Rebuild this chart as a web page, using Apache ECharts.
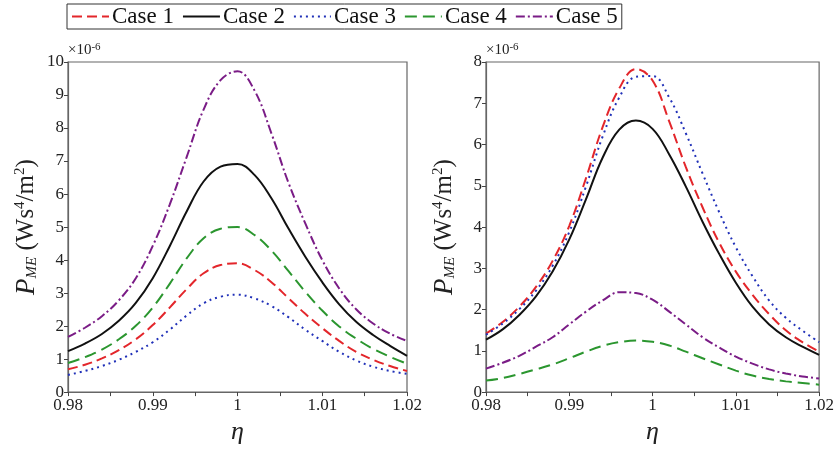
<!DOCTYPE html>
<html>
<head>
<meta charset="utf-8">
<script src="https://cdn.jsdelivr.net/npm/echarts@6/dist/echarts.min.js"></script>
<style>
  html, body { margin: 0; padding: 0; background: #fff; }
  #chart { width: 837px; height: 450px; }
</style>
</head>
<body>
<div id="chart"></div>
<script>
// eta sample points, shared by both panels
const eta = [0.980, 0.982, 0.984, 0.986, 0.988, 0.990, 0.992, 0.994, 0.996, 0.998, 1.000,
             1.002, 1.004, 1.006, 1.008, 1.010, 1.012, 1.014, 1.016, 1.018, 1.020]

// left panel, P_ME in units of 1e-6
const left1 = [0.69, 0.83, 1.02, 1.27, 1.60, 2.03, 2.56, 3.12, 3.60, 3.85, 3.90, 3.70, 3.33, 2.85, 2.37, 1.94, 1.55, 1.22, 0.98, 0.79, 0.64]
const left2 = [1.24, 1.47, 1.76, 2.16, 2.70, 3.45, 4.42, 5.47, 6.38, 6.83, 6.91, 6.58, 5.87, 4.96, 4.10, 3.33, 2.66, 2.13, 1.73, 1.40, 1.10]
const left3 = [0.52, 0.64, 0.79, 0.98, 1.22, 1.51, 1.89, 2.32, 2.69, 2.89, 2.95, 2.84, 2.61, 2.27, 1.89, 1.55, 1.22, 0.96, 0.77, 0.64, 0.55]
const left4 = [0.88, 1.06, 1.29, 1.60, 2.01, 2.56, 3.28, 4.05, 4.66, 4.95, 5.00, 4.76, 4.29, 3.67, 3.04, 2.47, 1.99, 1.62, 1.31, 1.07, 0.86]
const left5 = [1.67, 1.95, 2.30, 2.78, 3.45, 4.43, 5.68, 7.12, 8.56, 9.45, 9.72, 9.14, 7.84, 6.35, 5.11, 4.00, 3.14, 2.51, 2.08, 1.77, 1.55]

// right panel
const right1 = [1.42, 1.70, 2.07, 2.55, 3.18, 4.03, 5.18, 6.42, 7.36, 7.83, 7.55, 6.56, 5.45, 4.48, 3.62, 2.92, 2.36, 1.89, 1.50, 1.21, 0.98]
const right2 = [1.27, 1.52, 1.87, 2.32, 2.92, 3.70, 4.67, 5.68, 6.36, 6.58, 6.38, 5.76, 4.98, 4.13, 3.35, 2.65, 2.07, 1.64, 1.33, 1.10, 0.90]
const right3 = [1.39, 1.66, 2.01, 2.46, 3.06, 3.88, 4.98, 6.19, 7.14, 7.64, 7.66, 7.14, 6.27, 5.30, 4.36, 3.51, 2.81, 2.22, 1.80, 1.49, 1.21]
const right4 = [0.28, 0.34, 0.44, 0.55, 0.67, 0.82, 0.98, 1.12, 1.21, 1.25, 1.22, 1.13, 0.98, 0.82, 0.67, 0.52, 0.40, 0.32, 0.26, 0.22, 0.18]
const right5 = [0.57, 0.71, 0.88, 1.10, 1.33, 1.64, 1.95, 2.22, 2.42, 2.40, 2.24, 1.95, 1.64, 1.33, 1.08, 0.86, 0.69, 0.55, 0.45, 0.38, 0.33]

const caseNames = ['Case 1', 'Case 2', 'Case 3', 'Case 4', 'Case 5']
const xTicks = [0.98, 0.99, 1, 1.01, 1.02]

const serif = 'Liberation Serif'
const colors = ['#e3262b', '#111111', '#2030b8', '#2b962f', '#7a1c86']
const lineTypes = [[10, 5], 'solid', [2, 4], [12, 6], [9, 3, 2, 3]]

const chart = echarts.init(document.getElementById('chart'))

function zip(xs, ys) {
  return xs.map((x, i) => [x, ys[i]])
}

function makeSeries(name, idx, axisIdx, ys) {
  return {
    name: name,
    type: 'line',
    xAxisIndex: axisIdx,
    yAxisIndex: axisIdx,
    data: zip(eta, ys),
    smooth: 0.4,
    symbol: 'none',
    color: colors[idx],
    lineStyle: { width: 2, type: lineTypes[idx], color: colors[idx] },
    animation: false
  }
}

const yName = '{p|P}{sub|ME}{t| (Ws}{sup|4}{t|/m}{sup|2}{t|)}'
const yNameStyle = {
  fontFamily: serif,
  color: '#222',
  rich: {
    p: { fontFamily: serif, fontStyle: 'italic', fontSize: 27, color: '#222' },
    sub: { fontFamily: serif, fontStyle: 'italic', fontSize: 15, color: '#222', verticalAlign: 'bottom', padding: [12, 0, 0, 0] },
    t: { fontFamily: serif, fontSize: 25, color: '#222' },
    sup: { fontFamily: serif, fontSize: 15, color: '#222', verticalAlign: 'top', padding: [0, 0, 12, 0] }
  }
}

function xAxisFor(gridIndex) {
  return {
    type: 'value',
    gridIndex: gridIndex,
    min: 0.98,
    max: 1.02,
    interval: 0.01,
    name: 'η',
    nameLocation: 'middle',
    nameGap: 22,
    nameTextStyle: { fontFamily: serif, fontStyle: 'italic', fontSize: 26, color: '#222' },
    axisLine: { lineStyle: { color: '#666', width: 1.2 } },
    axisTick: { show: true, length: 4, lineStyle: { color: '#444' } },
    minorTick: { show: true, splitNumber: 2, length: 4, lineStyle: { color: '#444' } },
    splitLine: { show: false },
    axisLabel: {
      margin: 5,
      fontFamily: serif,
      fontSize: 17,
      color: '#222',
      formatter: v => String(xTicks.find(t => Math.abs(t - v) < 1e-6) ?? v)
    }
  }
}

function yAxisFor(gridIndex, max) {
  return {
    type: 'value',
    gridIndex: gridIndex,
    min: 0,
    max: max,
    interval: 1,
    name: yName,
    nameLocation: 'middle',
    nameRotate: 90,
    nameGap: 28,
    nameTextStyle: yNameStyle,
    axisLine: { show: true, lineStyle: { color: '#666', width: 1.2 } },
    axisTick: { show: true, length: 4, lineStyle: { color: '#444' } },
    splitLine: { show: false },
    axisLabel: { margin: 4, fontFamily: serif, fontSize: 17, color: '#222' }
  }
}

const scaleText = {
  rich: {
    a: { fontFamily: serif, fontSize: 15, fill: '#222' },
    b: { fontFamily: serif, fontSize: 11, fill: '#222', verticalAlign: 'top', padding: [0, 0, 6, 0] }
  }
}

chart.setOption({
  backgroundColor: '#fff',
  legend: {
    data: caseNames,
    left: 67,
    top: 4,
    padding: [1, 4, 1, 4],
    itemGap: 8,
    itemWidth: 37,
    itemHeight: 14,
    itemStyle: { color: 'transparent', borderWidth: 0, opacity: 0 },
    borderColor: '#333',
    borderWidth: 1,
    textStyle: { fontFamily: serif, fontSize: 23, color: '#111', padding: [0, 0, 0, -2] }
  },
  grid: [
    { left: 68, right: 430, top: 62, bottom: 41, show: true, borderColor: '#666', borderWidth: 1.2 },
    { left: 486, right: 15, top: 62, bottom: 45, show: true, borderColor: '#666', borderWidth: 1.2 }
  ],
  xAxis: [xAxisFor(0), xAxisFor(1)],
  yAxis: [yAxisFor(0, 10), yAxisFor(1, 8)],
  graphic: [
    { type: 'text', left: 68, top: 42, style: Object.assign({ text: '{a|×10}{b|-6}' }, scaleText) },
    { type: 'text', left: 486, top: 42, style: Object.assign({ text: '{a|×10}{b|-6}' }, scaleText) }
  ],
  series: [
    makeSeries(caseNames[0], 0, 0, left1),
    makeSeries(caseNames[1], 1, 0, left2),
    makeSeries(caseNames[2], 2, 0, left3),
    makeSeries(caseNames[3], 3, 0, left4),
    makeSeries(caseNames[4], 4, 0, left5),
    makeSeries(caseNames[0], 0, 1, right1),
    makeSeries(caseNames[1], 1, 1, right2),
    makeSeries(caseNames[2], 2, 1, right3),
    makeSeries(caseNames[3], 3, 1, right4),
    makeSeries(caseNames[4], 4, 1, right5)
  ]
})
</script>
</body>
</html>
